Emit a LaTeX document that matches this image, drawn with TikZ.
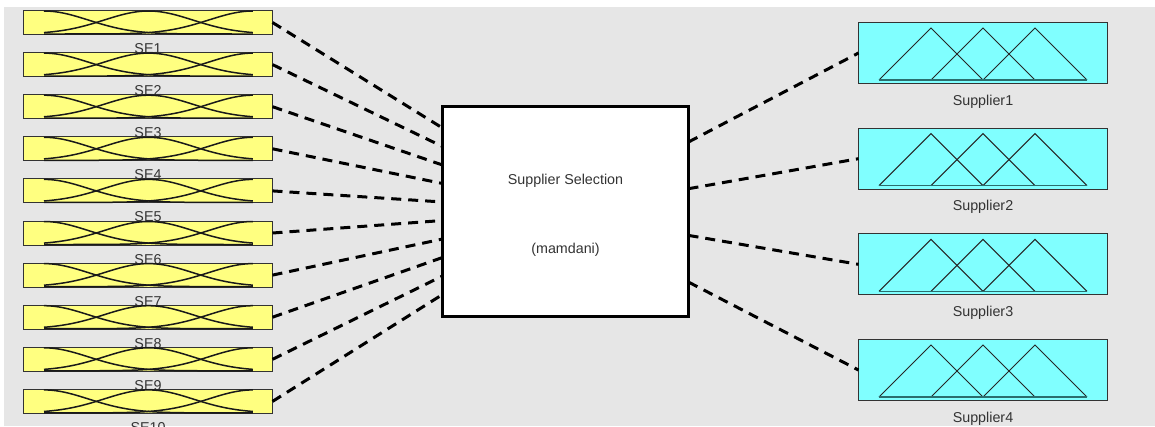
\documentclass[tikz,border=0pt]{standalone}
\usepackage{fontspec}
\setmainfont{Liberation Sans}
\usetikzlibrary{calc}
\definecolor{bg}{HTML}{E6E6E6}
\definecolor{yel}{HTML}{FFFF80}
\definecolor{cyn}{HTML}{80FFFF}
\definecolor{edge}{HTML}{333333}
\definecolor{teal2}{HTML}{2A6E6E}
\begin{document}
\begin{tikzpicture}[x=1pt,y=-1pt,
  inbox/.style={draw=edge, line width=1pt, fill=yel, minimum width=249pt, minimum height=24pt, inner sep=0pt, outer sep=0pt},
  outbox/.style={draw=edge, line width=1pt, fill=cyn, minimum width=249pt, minimum height=61pt, inner sep=0pt, outer sep=0pt},
  fis/.style={draw=black, line width=3pt, fill=white, minimum width=246pt, minimum height=210pt, inner sep=0pt, outer sep=0pt},
  conn/.style={line width=3pt, dash pattern=on 10pt off 7pt, black},
  lbl/.style={font=\fontsize{14.3}{16}\selectfont, text=edge, inner sep=0pt, anchor=base},
  mf/.style={line width=1.5pt, draw=black!90},
  tri/.style={line width=1pt, draw=black!85, line join=miter}
]
\useasboundingbox (0,0) rectangle (1155,426);
\fill[bg] (0,0) rectangle (1155,426);
\fill[white] (0,0) rectangle (1155,7);
\fill[white] (0,0) rectangle (4,426);

% input labels (drawn first, partly hidden by next box)
\foreach \i in {1,...,10}{
  \pgfmathsetmacro\cy{22.5+42.1*(\i-1)}
  \node[lbl] (sel\i) at (148,\cy+31) {SE\i};
}
% input boxes with membership functions
\foreach \i in {1,...,10}{
  \pgfmathsetmacro\cy{22.5+42.1*(\i-1)}
  \node[inbox] (se\i) at (148,\cy) {};
  \foreach \c in {0,0.5,1}{
    \draw[mf] plot[domain=0:1, samples=70, smooth] ({44+209*\x},{\cy+11.5-23*exp(-11.09*(\x-\c)*(\x-\c))});
  }
}

% central FIS block
\node[fis] (ctr) at (565.5,211.5) {};
\node[lbl] (ctrt1) at (565.5,184) {Supplier Selection};
\node[lbl] (ctrt2) at (565.5,253) {(mamdani)};

% output boxes
\foreach \j in {1,...,4}{
  \pgfmathsetmacro\cy{53+105.67*(\j-1)}
  \node[outbox] (sup\j) at (983,\cy) {};
  \draw[tri] (879,\cy+27) -- (931,\cy-25) -- (983,\cy+27);
  \draw[tri] (931,\cy+27) -- (983,\cy-25) -- (1035,\cy+27);
  \draw[tri] (983,\cy+27) -- (1035,\cy-25) -- (1087,\cy+27);
  \draw[line width=1.4pt, teal2] (879,\cy+27) -- (1087,\cy+27);
  \node[lbl] (supl\j) at (983,\cy+52) {Supplier\j};
}

% connectors
\foreach \i in {1,...,10}{
  \pgfmathsetmacro\f{(21.5+18.5*(\i-1))/210}
  \draw[conn] (se\i.east) -- ($(ctr.north west)!\f!(ctr.south west)$);
}
\foreach \j in {1,...,4}{
  \pgfmathsetmacro\f{(35.5+46.7*(\j-1))/210}
  \draw[conn] ($(ctr.north east)!\f!(ctr.south east)$) -- (sup\j.west);
}
\end{tikzpicture}
\end{document}
